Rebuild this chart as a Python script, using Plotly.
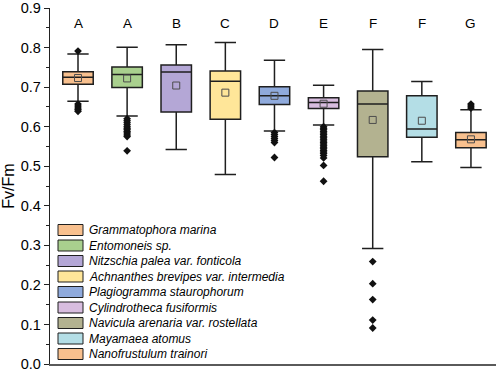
import plotly.graph_objects as go

species = ["Grammatophora marina", "Entomoneis sp.", "Nitzschia palea var. fonticola",
           "Achnanthes brevipes var. intermedia", "Plagiogramma staurophorum",
           "Cylindrotheca fusiformis", "Navicula arenaria var. rostellata",
           "Mayamaea atomus", "Nanofrustulum trainori"]
positions = [1, 2, 3, 4, 5, 6, 7, 8, 9]
group_letters = ["A", "A", "B", "C", "D", "E", "F", "F", "G"]
colors = ["#F8C08E", "#A9D08E", "#B4A7D6", "#FFE699", "#8FAADC",
          "#D8BDDF", "#B3B290", "#B4DEE6", "#F8C08E"]

q1 = [0.707, 0.699, 0.637, 0.619, 0.656, 0.646, 0.524, 0.573, 0.547]
median = [0.725, 0.732, 0.738, 0.715, 0.678, 0.661, 0.657, 0.594, 0.567]
q3 = [0.739, 0.751, 0.756, 0.741, 0.701, 0.673, 0.690, 0.678, 0.585]
lower = [0.664, 0.627, 0.542, 0.479, 0.589, 0.604, 0.292, 0.511, 0.497]
upper = [0.784, 0.801, 0.807, 0.813, 0.768, 0.705, 0.795, 0.714, 0.643]
means = [0.723, 0.722, 0.704, 0.686, 0.678, 0.658, 0.617, 0.615, 0.568]

outliers = {
    1: [0.791, 0.657, 0.652, 0.647, 0.643, 0.639],
    2: [0.620, 0.615, 0.610, 0.605, 0.600, 0.596, 0.592, 0.588, 0.584, 0.579, 0.575, 0.539],
    5: [0.585, 0.580, 0.575, 0.570, 0.565, 0.560, 0.522],
    6: [0.600, 0.596, 0.592, 0.588, 0.584, 0.580, 0.576, 0.572, 0.568, 0.564, 0.560,
        0.556, 0.552, 0.548, 0.544, 0.540, 0.536, 0.532, 0.527, 0.521, 0.502, 0.462],
    7: [0.259, 0.203, 0.163, 0.111, 0.091],
    9: [0.657, 0.652, 0.647],
}

letter_y = 0.861
edge = "#1f1f1f"
font_family = "Arial, Liberation Sans, sans-serif"

fig = go.Figure()
for i, name in enumerate(species):
    fig.add_trace(go.Box(
        x=[positions[i]], q1=[q1[i]], median=[median[i]], q3=[q3[i]],
        lowerfence=[lower[i]], upperfence=[upper[i]],
        width=0.62, whiskerwidth=0.7, fillcolor=colors[i],
        line=dict(color=edge, width=1.5), boxpoints=False,
        name=name, showlegend=False, hoverinfo="skip"))

ox, oy = [], []
for p, vals in outliers.items():
    ox += [p] * len(vals)
    oy += vals
fig.add_trace(go.Scatter(x=ox, y=oy, mode="markers", showlegend=False,
                         marker=dict(symbol="diamond", size=6, color="#111111")))
fig.add_trace(go.Scatter(x=positions, y=means, mode="markers", showlegend=False,
                         marker=dict(symbol="square-open", size=7, color="#4d4d4d",
                                     line=dict(width=1))))

for p, letter in zip(positions, group_letters):
    fig.add_annotation(x=p, y=letter_y, text=letter, showarrow=False,
                       font=dict(size=13.5, color="black", family=font_family))

# manual legend (bottom-left inside plot)
L, R, T, B = 50, 2, 8, 7
W, H = 498, 371
pw, ph = W - L - R, H - T - B
def px_x(px):
    return (px - L) / pw
def px_y(py):
    return (H - B - py) / ph
first_c, step = 230, 15.5
for i, name in enumerate(species):
    cy = first_c + i * step
    fig.add_shape(type="rect", xref="paper", yref="paper",
                  x0=px_x(58), x1=px_x(83), y0=px_y(cy + 5.5), y1=px_y(cy - 5.5),
                  fillcolor=colors[i], line=dict(color=edge, width=1))
    fig.add_annotation(xref="paper", yref="paper", x=px_x(87), y=px_y(cy),
                       xanchor="left", yanchor="middle", text=name, showarrow=False,
                       font=dict(size=12, color="black", family=font_family, style="italic"))

fig.update_layout(
    width=W, height=H, margin=dict(l=L, r=R, t=T, b=B, autoexpand=False),
    plot_bgcolor="white", paper_bgcolor="white",
    font=dict(family=font_family, color="black"),
    showlegend=False,
    xaxis=dict(range=[0.43, 9.51], showticklabels=False, ticks="", showgrid=False,
               zeroline=False, showline=True, linecolor="#5a5a5a", linewidth=2.2,
               automargin=False),
    yaxis=dict(range=[0, 0.90001], dtick=0.1, tick0=0, tickformat=".1f", ticks="outside",
               ticklen=5, tickwidth=1.2, tickcolor="#222", showgrid=False, zeroline=False,
               showline=True, linecolor="#222", linewidth=1.3, automargin=False,
               ticklabeloverflow="allow",
               tickfont=dict(size=14.5), title=dict(text="Fv/Fm", font=dict(size=16), standoff=5),
               minor=dict(dtick=0.05, ticks="outside", ticklen=3, tickcolor="#222")),
)

fig.write_html("out.html", config={"displayModeBar": False},
               post_script="document.body.style.margin='0';document.body.style.overflow='hidden';")
